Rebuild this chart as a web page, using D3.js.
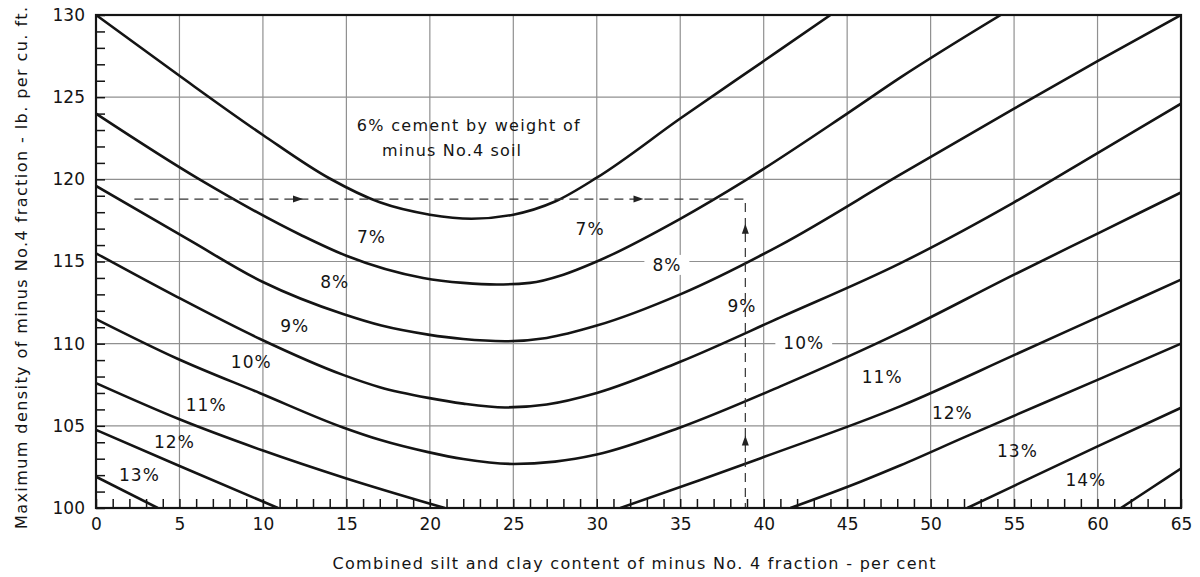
<!DOCTYPE html>
<html>
<head>
<meta charset="utf-8">
<script src="https://cdn.jsdelivr.net/npm/d3@7"></script>
<style>
  html, body { margin: 0; padding: 0; background: #fff; }
  svg { display: block; font-family: "DejaVu Sans", sans-serif; }
</style>
</head>
<body>
<svg id="chart" width="1200" height="577"></svg>
<script>
// x = combined silt and clay content (%), y = max density (lb per cu ft)
const xTicks = [0, 5, 10, 15, 20, 25, 30, 35, 40, 45, 50, 55, 60, 65];
const yTicks = [100, 105, 110, 115, 120, 125, 130];

// contour lines, named by the cement contents on either side
const c6to7X = [0, 5, 10, 14, 17, 20, 22.5, 25, 27.5, 30, 35, 40, 44];
const c6to7Y = [130, 126.3, 122.7, 120.05, 118.6, 117.85, 117.6, 117.85, 118.65, 120.1, 123.7, 127.2, 130];

const c7to8X = [0, 6.2, 12.3, 15, 19.6, 22, 24, 26, 28, 30, 35, 39, 45, 48.2, 54.2];
const c7to8Y = [124.0, 120.0, 116.6, 115.35, 114.0, 113.7, 113.6, 113.7, 114.2, 115.0, 117.6, 120.0, 124.0, 126.2, 130];

const c8to9X = [0, 5.6, 10, 14.8, 17.1, 19.9, 22, 24.5, 27, 30, 35, 41, 48.2, 55, 60, 65];
const c8to9Y = [119.6, 116.3, 113.75, 111.8, 111.1, 110.55, 110.28, 110.15, 110.35, 111.1, 113.0, 116.0, 120.3, 124.3, 127.2, 130];

const c9to10X = [0, 4.85, 9.8, 14.8, 17, 19.9, 22, 24.5, 27, 30, 35, 41, 48.2, 55, 60, 65];
const c9to10Y = [115.5, 112.85, 110.3, 108.1, 107.35, 106.7, 106.35, 106.12, 106.3, 107.0, 108.9, 111.6, 114.9, 118.6, 121.6, 124.6];

const c10to11X = [0, 4.85, 9.8, 14.8, 17, 19.9, 22, 25, 27.5, 30, 35, 41, 48.2, 55, 60, 65];
const c10to11Y = [111.5, 109.1, 107.0, 104.9, 104.15, 103.4, 102.98, 102.68, 102.82, 103.25, 104.9, 107.4, 110.7, 114.2, 116.7, 119.2];

const c11to12LeftX = [0, 5, 10, 15, 20.9];
const c11to12LeftY = [107.6, 105.4, 103.5, 101.8, 100];
const c11to12RightX = [31.4, 36.2, 40, 48.2, 55, 60, 65];
const c11to12RightY = [100, 101.7, 103.1, 106.2, 109.3, 111.6, 113.9];

const c12to13LeftX = [0, 4.9, 10.9];
const c12to13LeftY = [104.75, 102.6, 100];
const c12to13RightX = [41.6, 45.8, 48.2, 52, 60, 65];
const c12to13RightY = [100, 101.6, 102.6, 104.3, 107.8, 110.0];

const c13to14LeftX = [0, 3.7];
const c13to14LeftY = [101.9, 100];
const c13to14RightX = [52.2, 55, 60, 65];
const c13to14RightY = [100, 101.35, 103.75, 106.1];

const c14to15X = [61.4, 63.2, 65];
const c14to15Y = [100, 101.2, 102.4];

// cement labels
const labelText = ['7%', '8%', '9%', '10%', '11%', '12%', '13%',
                   '7%', '8%', '9%', '10%', '11%', '12%', '13%', '14%'];
const labelX = [16.5, 14.3, 11.9, 9.3, 6.6, 4.7, 2.6,
                29.6, 34.2, 38.7, 42.4, 47.1, 51.3, 55.2, 59.3];
const labelY = [116.5, 113.75, 111.1, 108.9, 106.3, 104.0, 102.0,
                117.0, 114.8, 112.3, 110.05, 108.0, 105.8, 103.5, 101.7];
const labelOnGrid = [false, false, false, false, false, false, false,
                     false, true, false, true, false, false, false, false];

// worked example (dashed guide) and its arrows
const guideX = [2.3, 38.9, 38.9];
const guideY = [118.8, 118.8, 100];
const arrowX = [12.1, 32.5, 38.9, 38.9];
const arrowY = [118.8, 118.8, 117.0, 104.1];
const arrowDir = ['right', 'right', 'up', 'up'];

const noteLines = ['6% cement by weight of', 'minus No.4 soil'];
const noteX = [22.3, 21.3];
const noteY = [123.3, 121.8];

const chartHelpers = {
  margins: { top: 15, left: 96, right: 19, bottom: 69 },
  width: 1200,
  height: 577,
  x: d3.scaleLinear(),
  y: d3.scaleLinear(),
  ink: '#141414',
  grid: '#909090'
};

const charts = {
  setup: svg => {
    const m = chartHelpers.margins;
    chartHelpers.x.domain([0, 65]).range([m.left, chartHelpers.width - m.right]);
    chartHelpers.y.domain([100, 130]).range([chartHelpers.height - m.bottom, m.top]);
    svg.append('defs').append('clipPath').attr('id', 'plot-clip')
      .append('rect')
      .attr('x', m.left).attr('y', m.top)
      .attr('width', chartHelpers.width - m.left - m.right)
      .attr('height', chartHelpers.height - m.top - m.bottom);
  },
  drawGrid: svg => {
    const x = chartHelpers.x, y = chartHelpers.y;
    const g = svg.append('g').attr('class', 'grid');
    g.selectAll('line.v')
      .data(xTicks.filter(d => d > 0 && d < 65))
      .enter().append('line')
      .attr('x1', d => x(d)).attr('x2', d => x(d))
      .attr('y1', y(100)).attr('y2', y(130))
      .attr('stroke', chartHelpers.grid).attr('stroke-width', 1.2);
    g.selectAll('line.h')
      .data(yTicks.filter(d => d > 100 && d < 130))
      .enter().append('line')
      .attr('x1', x(0)).attr('x2', x(65))
      .attr('y1', d => y(d)).attr('y2', d => y(d))
      .attr('stroke', chartHelpers.grid).attr('stroke-width', 1.2);
  },
  drawCurves: svg => {
    const x = chartHelpers.x, y = chartHelpers.y;
    const contours = [
      [c6to7X, c6to7Y], [c7to8X, c7to8Y], [c8to9X, c8to9Y], [c9to10X, c9to10Y],
      [c10to11X, c10to11Y],
      [c11to12LeftX, c11to12LeftY], [c11to12RightX, c11to12RightY],
      [c12to13LeftX, c12to13LeftY], [c12to13RightX, c12to13RightY],
      [c13to14LeftX, c13to14LeftY], [c13to14RightX, c13to14RightY],
      [c14to15X, c14to15Y]
    ].map(([xs, ys]) => xs.map((v, i) => [v, ys[i]]));
    const line = d3.line()
      .x(d => x(d[0])).y(d => y(d[1]))
      .curve(d3.curveMonotoneX);
    svg.append('g').attr('clip-path', 'url(#plot-clip)')
      .selectAll('path')
      .data(contours)
      .enter().append('path')
      .attr('d', line)
      .attr('fill', 'none')
      .attr('stroke', chartHelpers.ink)
      .attr('stroke-width', 2.6)
      .attr('stroke-linejoin', 'round');
  },
  drawGuide: svg => {
    const x = chartHelpers.x, y = chartHelpers.y;
    const pts = guideX.map((v, i) => [x(v), y(guideY[i])]);
    svg.append('path')
      .attr('d', d3.line()(pts))
      .attr('fill', 'none')
      .attr('stroke', '#333')
      .attr('stroke-width', 1.2)
      .attr('stroke-dasharray', '9,6');
    svg.append('g').selectAll('path')
      .data(arrowX.map((v, i) => ({ x: v, y: arrowY[i], dir: arrowDir[i] })))
      .enter().append('path')
      .attr('d', 'M5,0 L-5,-3.5 L-5,3.5 Z')
      .attr('fill', '#222')
      .attr('transform', d => 'translate(' + x(d.x) + ',' + y(d.y) + ') rotate(' + (d.dir == 'up' ? -90 : 0) + ')');
  },
  drawLabels: svg => {
    const x = chartHelpers.x, y = chartHelpers.y;
    const g = svg.append('g');
    labelText.forEach((t, i) => {
      const txt = g.append('text')
        .attr('x', x(labelX[i])).attr('y', y(labelY[i]))
        .attr('dy', '0.36em')
        .attr('text-anchor', 'middle')
        .attr('font-size', 17)
        .attr('letter-spacing', 1)
        .attr('fill', chartHelpers.ink)
        .text(t);
      if (labelOnGrid[i]) {
        const b = txt.node().getBBox();
        g.insert('rect', 'text')
          .attr('x', b.x - 8).attr('y', b.y)
          .attr('width', b.width + 16).attr('height', b.height)
          .attr('fill', '#fff');
      }
    });
    noteLines.forEach((t, i) => {
      g.append('text')
        .attr('x', x(noteX[i])).attr('y', y(noteY[i]))
        .attr('dy', '0.36em')
        .attr('text-anchor', 'middle')
        .attr('font-size', 16)
        .attr('textLength', i == 0 ? 223 : 139)
        .attr('lengthAdjust', 'spacing')
        .attr('fill', chartHelpers.ink)
        .text(t);
    });
  },
  defineAxes: svg => {
    const x = chartHelpers.x, y = chartHelpers.y;
    const m = chartHelpers.margins;
    const bottom = chartHelpers.height - m.bottom;
    // minor ticks, every unit, pointing inwards
    svg.append('g')
      .attr('transform', 'translate(0,' + bottom + ')')
      .call(d3.axisBottom(x).tickValues(d3.range(0, 66)).tickSize(-9).tickFormat(''))
      .call(g => g.select('.domain').remove())
      .call(g => g.selectAll('line').attr('stroke', chartHelpers.ink).attr('stroke-width', 1.5));
    svg.append('g')
      .attr('transform', 'translate(' + m.left + ',0)')
      .call(d3.axisLeft(y).tickValues(d3.range(100, 131)).tickSize(-9).tickFormat(''))
      .call(g => g.select('.domain').remove())
      .call(g => g.selectAll('line').attr('stroke', chartHelpers.ink).attr('stroke-width', 1.5));
    // labelled ticks
    svg.append('g')
      .attr('transform', 'translate(0,' + bottom + ')')
      .call(d3.axisBottom(x).tickValues(xTicks).tickSize(0).tickPadding(10))
      .call(g => g.select('.domain').remove())
      .call(g => g.selectAll('text').attr('font-size', 17).attr('fill', chartHelpers.ink)
        .attr('font-family', '"DejaVu Sans", sans-serif'));
    svg.append('g')
      .attr('transform', 'translate(' + m.left + ',0)')
      .call(d3.axisLeft(y).tickValues(yTicks).tickSize(0).tickPadding(11))
      .call(g => g.select('.domain').remove())
      .call(g => g.selectAll('text').attr('font-size', 17).attr('fill', chartHelpers.ink)
        .attr('font-family', '"DejaVu Sans", sans-serif'));
    // frame
    svg.append('rect')
      .attr('x', x(0)).attr('y', y(130))
      .attr('width', x(65) - x(0)).attr('height', y(100) - y(130))
      .attr('fill', 'none')
      .attr('stroke', chartHelpers.ink)
      .attr('stroke-width', 2.2);
    // axis titles
    svg.append('text')
      .attr('x', 634).attr('y', 563)
      .attr('dy', '0.36em')
      .attr('text-anchor', 'middle')
      .attr('font-size', 16)
      .attr('textLength', 603)
      .attr('lengthAdjust', 'spacing')
      .attr('fill', chartHelpers.ink)
      .text('Combined silt and clay content of minus No. 4 fraction - per cent');
    svg.append('text')
      .attr('transform', 'translate(21,268) rotate(-90)')
      .attr('dy', '0.36em')
      .attr('text-anchor', 'middle')
      .attr('font-size', 16)
      .attr('textLength', 522)
      .attr('lengthAdjust', 'spacing')
      .attr('fill', chartHelpers.ink)
      .text('Maximum density of minus No.4 fraction - lb. per cu. ft.');
  }
};

const svg = d3.select('#chart');
charts.setup(svg);
charts.drawGrid(svg);
charts.drawLabels(svg);
charts.drawCurves(svg);
charts.drawGuide(svg);
charts.defineAxes(svg);
</script>
</body>
</html>
